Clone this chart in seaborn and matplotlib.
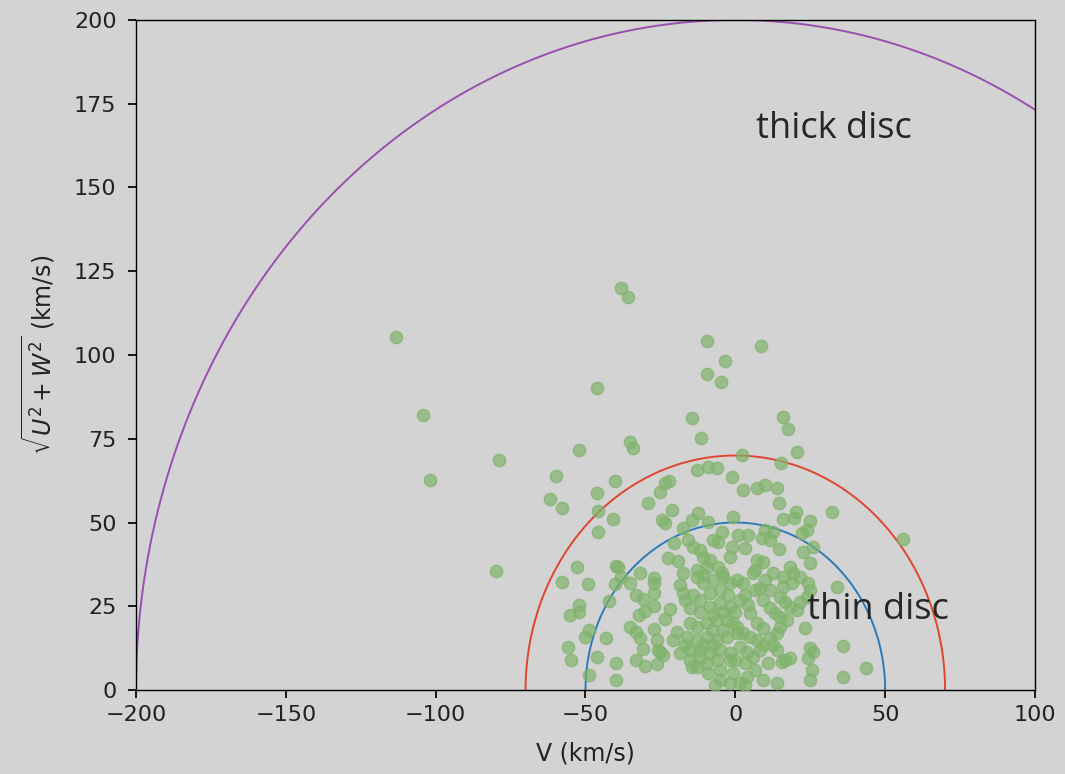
import numpy as np
import pandas as pd
import matplotlib
matplotlib.use("Agg")
import matplotlib.pyplot as plt
import seaborn as sns

# Galactic velocity components of the sample stars (km/s)
V = [
    -113.3, -104.3, -102.0, -79.0, -79.7, -38.0, -35.7, -46.0, -9.3, 8.7,
    -9.3, -3.3, -4.7, 16.0, 17.7, -14.3, -11.3,
    -52.3, -35.0, -34.0, -59.7, -40.3, -46.3, -62.0, -57.7, -45.7, -40.7,
    -45.7, -29.0, -25.0, -23.3, -22.0, -21.0, -24.3, -23.3, -14.3, -12.3,
    -9.0, -12.7, -9.0, -6.0, -17.3, -15.7, -14.0, -11.7, -10.7, -9.3,
    -8.3, -4.3, -5.7, -7.3, -1.0, -1.7, -22.3, -19.0, -39.3, -31.7,
    -27.3, -17.3, -12.7, -10.7, -5.7, -4.3, -1.0, -20.3, -52.7,
    2.3, 20.7, 15.3, 2.7, 7.3, 10.0, 14.0, 14.7, 20.3, 19.7,
    16.0, 25.0, 24.0, 22.3, 32.3, 56.0, -0.7, 1.0, 4.3, 9.0,
    11.7, 10.0, 12.7, 3.3, 14.7, 22.7, 26.0, 25.0, 7.3, 9.3,
    6.7, 12.7, 18.3, 19.3, 16.0,
    -57.7, -49.3, -39.7, -38.3, -40.0, -35.3, -27.0, -27.0, -33.0, -30.7,
    -27.3, -30.0, -32.3, -52.0, -52.3, -55.3, -42.0, -23.3, -48.7, -50.0,
    -43.3, -35.0, -33.0, -31.7, -30.7, -27.0, -26.3, -25.7, -24.0, -55.7,
    -55.0, -46.0, -39.7, -39.7, -48.7, -33.0, -30.0, -26.0,
    -21.7, -20.7, -25.0, -18.3, -16.7, -19.3, -14.3, -15.0, -11.7, -9.0,
    -5.0, -1.7, -18.3, -17.3, -14.0, -12.7, -10.7, -7.3, -4.0, -1.7,
    0.7, -8.3, -5.0, -1.7, -15.0, -12.7, -9.3, -6.0, -2.7, -0.7,
    -16.0, -12.7, -9.3, -6.0, -2.7, 0.7, -15.0, -11.7, -8.3, -5.0,
    -1.7, -12.7, -9.3, -6.0, -1.7, -5.0, -0.7, -11.7, -7.3, -4.0,
    -11.7, -15.0, -16.7, -8.3, -5.0, -2.3, -10.7, -7.3, -4.0, -7.7,
    16.0, 19.0, 21.7, 24.3, 25.0, 24.0, 21.7, 20.7, 15.0, 16.7,
    18.3, 6.0, 2.7, 9.3, 11.7, 13.3, 15.0, 23.3, 17.3, 15.0,
    14.0, 11.7, 5.0, 7.3, 9.3, 0.7, 2.7, 5.0, 7.3, 9.3,
    1.7, 4.0, 6.0, 8.3, 12.7, 14.0, 11.0, 16.7, 18.3, 25.0,
    26.0, 24.3, 25.7, 25.0, 6.7, 4.0, 1.7, 14.0, 9.3, 34.0,
    36.0, 43.7, 36.0, 15.7, 3.3, 6.7, 4.3, 1.7, 0.0, 8.3,
    11.7, 10.0, 3.3, 0.0, -6.7, 3.3,
]
UW = [
    105.4, 82.1, 62.7, 68.7, 35.5, 120.0, 117.3, 90.1, 104.2, 102.7,
    94.3, 98.2, 91.9, 81.5, 77.9, 81.2, 75.2,
    71.6, 74.0, 72.2, 63.9, 62.4, 58.8, 57.0, 54.3, 53.4, 51.0,
    47.2, 55.8, 59.1, 61.8, 62.4, 53.7, 50.7, 49.9, 50.7, 52.8,
    50.1, 65.7, 66.6, 66.3, 48.4, 44.8, 42.7, 41.8, 39.7, 36.7,
    38.8, 47.2, 44.2, 44.8, 42.7, 39.7, 39.4, 38.5, 36.7, 34.9,
    33.4, 34.9, 35.8, 34.3, 36.7, 34.9, 63.6, 43.9, 36.7,
    70.1, 71.0, 67.8, 59.7, 60.3, 61.2, 60.3, 55.8, 53.1, 51.3,
    51.0, 50.4, 47.8, 46.9, 53.1, 45.1, 51.6, 46.3, 46.3, 45.4,
    44.8, 47.8, 47.2, 42.4, 42.1, 41.2, 42.7, 37.9, 38.8, 38.2,
    35.8, 34.9, 36.7, 34.9, 33.7,
    32.2, 31.6, 37.0, 33.7, 31.6, 31.9, 31.9, 29.0, 28.4, 27.2,
    25.1, 23.6, 22.4, 25.4, 23.3, 22.4, 26.6, 21.2, 17.9, 15.8,
    15.5, 18.8, 17.3, 15.5, 12.2, 18.2, 14.9, 11.9, 10.4, 12.8,
    9.0, 9.9, 8.1, 3.0, 4.5, 9.0, 7.2, 7.8,
    24.2, 14.9, 11.3, 11.0, 13.4, 17.3, 6.9, 9.0, 9.6, 5.1,
    3.0, 2.1, 31.3, 29.0, 28.4, 33.7, 31.9, 32.8, 33.7, 31.9,
    32.8, 24.8, 26.0, 24.8, 20.0, 18.8, 20.0, 20.9, 20.9, 20.0,
    15.8, 14.9, 15.8, 14.9, 15.8, 17.0, 11.9, 11.9, 11.0, 11.9,
    11.0, 6.9, 8.1, 9.0, 9.0, 6.0, 5.1, 26.9, 22.4, 23.3,
    23.3, 24.5, 26.9, 29.0, 29.9, 28.4, 13.4, 13.4, 17.9, 17.9,
    30.7, 31.9, 33.7, 31.9, 29.9, 27.8, 26.3, 23.9, 27.8, 26.3,
    24.8, 34.9, 31.9, 26.9, 24.5, 23.0, 21.8, 18.5, 20.9, 18.8,
    17.0, 15.5, 23.0, 20.0, 18.5, 18.8, 17.0, 15.8, 14.9, 13.4,
    12.8, 11.3, 9.9, 11.9, 13.4, 11.9, 8.1, 9.0, 9.6, 12.5,
    11.3, 9.6, 6.0, 3.0, 6.0, 3.9, 2.1, 2.1, 3.0, 30.7,
    13.1, 6.6, 3.9, 8.4, 28.4, 29.9, 25.4, 26.9, 23.3, 30.4,
    29.9, 32.8, 8.1, 9.0, 1.5, 1.5,
]

# Population boundaries: total peculiar velocity radii (km/s)
boundary_radii = [50, 70, 200]
boundary_colors = ["#2b7bba", "#e0452f", "#9a4fb0"]

region_labels = ["thick disc", "thin disc"]
label_V = [7, 24]
label_UW = [167.5, 24]

x_ticks = [-200, -150, -100, -50, 0, 50, 100]
y_ticks = [0, 25, 50, 75, 100, 125, 150, 175, 200]

sns.set_theme(style="ticks", rc={
    "figure.facecolor": "lightgray",
    "axes.facecolor": "lightgray",
    "axes.edgecolor": "black",
    "xtick.color": "black",
    "ytick.color": "black",
    "xtick.labelcolor": "#222222",
    "ytick.labelcolor": "#222222",
    "axes.labelcolor": "#222222",
    "xtick.major.size": 6,
    "ytick.major.size": 6,
})
plt.rcParams["font.family"] = ["DejaVu Sans"]

fig = plt.figure(figsize=(10.65, 7.74), dpi=100)
ax = fig.add_axes([0.1277, 0.1085, 0.8441, 0.8657])

stars = pd.DataFrame({"V": V, "UW": UW})
sns.scatterplot(data=stars, x="V", y="UW", ax=ax, color="#80b36c",
                alpha=0.7, s=80, edgecolor="#80b36c", linewidth=1.0,
                zorder=3)

theta = np.linspace(0, np.pi, 721)
for r, c in zip(boundary_radii, boundary_colors):
    arc = pd.DataFrame({"V": r * np.cos(theta), "UW": r * np.sin(theta)})
    sns.lineplot(data=arc, x="V", y="UW", ax=ax, color=c, lw=1.4,
                 sort=False, estimator=None, zorder=2)

for txt, lx, ly in zip(region_labels, label_V, label_UW):
    ax.text(lx, ly, txt, fontsize=26, color="#262626", va="center",
            ha="left", family=["Open Sans", "DejaVu Sans"], zorder=4)

ax.set_xlim(-200, 100)
ax.set_ylim(0, 200)
ax.set_xticks(x_ticks)
ax.set_yticks(y_ticks)
ax.tick_params(axis="x", labelsize=16, pad=5)
ax.tick_params(axis="y", labelsize=16, pad=8)
ax.set_xlabel("V (km/s)", fontsize=17, labelpad=12)
ax.set_ylabel(r"$\sqrt{U^2+W^2}$ (km/s)", fontsize=17, labelpad=12)
for s in ax.spines.values():
    s.set_visible(True)
    s.set_color("black")
    s.set_linewidth(1.0)

fig.savefig("out.png", dpi=100, facecolor="lightgray")
